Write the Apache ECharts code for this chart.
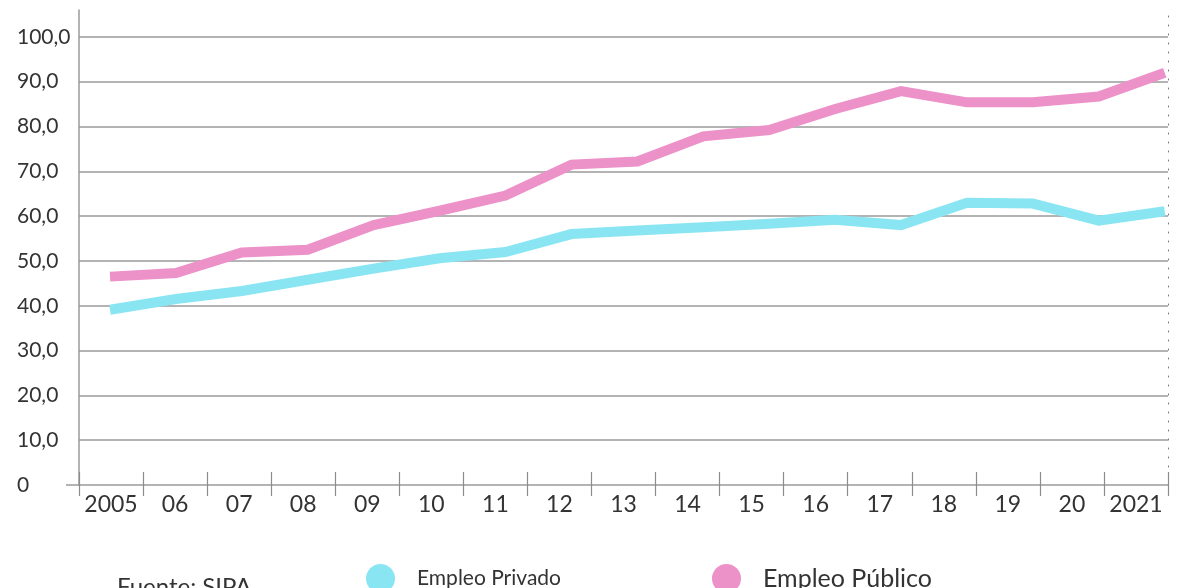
<!DOCTYPE html>
<html>
<head>
<meta charset="utf-8">
<script src="https://cdn.jsdelivr.net/npm/echarts@6/dist/echarts.min.js"></script>
<style>
html,body{margin:0;padding:0;background:#fff;}
#chart{width:1182px;height:588px;}
</style>
</head>
<body>
<div id="chart"></div>
<script>
const yearLabels = ['2005','06','07','08','09','10','11','12','13','14','15','16','17','18','19','20','2021'];
const empleoPrivado = [39.1, 41.5, 43.3, 45.8, 48.3, 50.6, 52.0, 56.0, 56.8, 57.5, 58.3, 59.2, 58.0, 63.0, 62.8, 59.0, 61.1];
const empleoPublico = [46.5, 47.3, 51.9, 52.5, 58.0, 61.2, 64.6, 71.5, 72.2, 77.8, 79.2, 83.9, 87.9, 85.4, 85.4, 86.7, 92.0];
const sourceText = 'Fuente: SIPA';

const textColor = '#333333';
const axisGray = '#9a9a9a';
const font = 'Lato, "Noto Sans", sans-serif';

const chart = echarts.init(document.getElementById('chart'), null, {renderer: 'canvas'});

const fmt = v => (v % 10 !== 0) ? '' : (v === 0 ? '0' : v.toFixed(1).replace('.', ','));

chart.setOption({
  animation: false,
  backgroundColor: '#ffffff',
  title: {
    text: sourceText,
    left: 112,
    top: 570,
    textStyle: {color: textColor, fontSize: 24, fontWeight: 'normal', fontFamily: font}
  },
  legend: [
    {
      data: [{name: 'Empleo Privado', textStyle: {fontSize: 21}}],
      left: 361,
      top: 559,
      icon: 'circle',
      itemWidth: 29,
      itemHeight: 29,
      textStyle: {color: textColor, fontFamily: font, padding: [10, 0, 0, 17]}
    },
    {
      data: [{name: 'Empleo Público', textStyle: {fontSize: 25}}],
      left: 707,
      top: 559,
      icon: 'circle',
      itemWidth: 29,
      itemHeight: 29,
      textStyle: {color: textColor, fontFamily: font, padding: [6, 0, 0, 17]}
    }
  ],
  grid: {left: 79, right: 14, top: 10, bottom: 103, containLabel: false},
  xAxis: [
    {
      type: 'category',
      data: yearLabels,
      boundaryGap: true,
      position: 'bottom',
      axisLine: {show: true, onZero: false, lineStyle: {color: axisGray, width: 1.5}},
      axisTick: {show: true, length: 11, lineStyle: {color: '#8c8c8c', width: 1.2}},
      axisLabel: {color: textColor, fontSize: 23, fontFamily: font, margin: 8, interval: 0},
      splitLine: {show: false}
    },
    {
      type: 'category',
      data: yearLabels,
      boundaryGap: true,
      position: 'bottom',
      axisLine: {show: false, onZero: false},
      axisTick: {show: true, inside: true, length: 13, lineStyle: {color: '#8c8c8c', width: 1.2}},
      axisLabel: {show: false},
      splitLine: {show: false}
    },
    {
      type: 'value',
      min: -0.47,
      max: 16.05,
      show: false
    }
  ],
  yAxis: [
    {
      type: 'value',
      min: 0,
      max: 106,
      interval: 10,
      axisLine: {show: true, onZero: false, lineStyle: {color: axisGray, width: 1.5}},
      axisTick: {show: false},
      axisLabel: {
        color: textColor, fontSize: 21, fontFamily: font,
        align: 'left', margin: 62, showMaxLabel: false,
        formatter: fmt
      },
      splitLine: {show: true, showMinLine: false, showMaxLine: false, lineStyle: {color: axisGray, width: 1.5}}
    },
    {
      type: 'value',
      min: 0,
      max: 106,
      position: 'right',
      axisLine: {show: true, onZero: false, lineStyle: {color: '#777', width: 1, type: [1, 8]}},
      axisTick: {show: false},
      axisLabel: {show: false},
      splitLine: {show: false}
    },
    {
      type: 'value',
      min: 0,
      max: 106,
      position: 'left',
      axisLine: {show: false, onZero: false},
      axisTick: {show: true, customValues: [0], length: 13, lineStyle: {color: axisGray, width: 1.5}},
      axisLabel: {show: false},
      splitLine: {show: false}
    }
  ],
  series: [
    {
      name: 'Empleo Privado',
      type: 'line',
      xAxisIndex: 2,
      yAxisIndex: 0,
      data: empleoPrivado.map((v, i) => [i, v]),
      symbol: 'none',
      color: '#8AE5F3',
      lineStyle: {width: 10, color: '#8AE5F3', cap: 'butt', join: 'miter'}
    },
    {
      name: 'Empleo Público',
      type: 'line',
      xAxisIndex: 2,
      yAxisIndex: 0,
      data: empleoPublico.map((v, i) => [i, v]),
      symbol: 'none',
      color: '#ED91C9',
      lineStyle: {width: 10, color: '#ED91C9', cap: 'butt', join: 'miter'}
    }
  ]
});
</script>
</body>
</html>
